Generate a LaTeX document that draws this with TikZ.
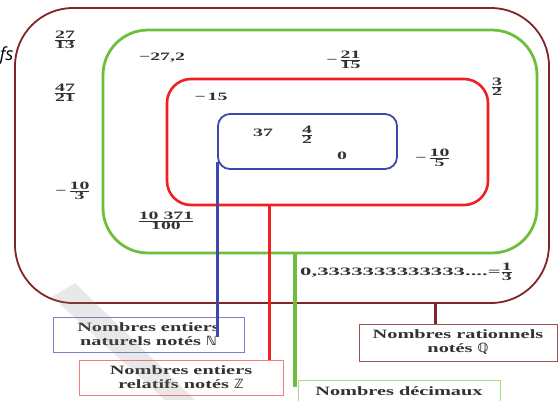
\documentclass[tikz,border=0pt]{standalone}
\usepackage{amsmath,amssymb,graphicx}
\usepackage{fontspec}
\usetikzlibrary{calc}
\newfontfamily\wf{Liberation Serif}[FakeStretch=1.75]
\newfontfamily\lf{Liberation Serif}[FakeStretch=1.6]
\newfontfamily\dsf{DejaVu Sans}
\newfontfamily\fsfont{Open Sans}
\definecolor{cBrown}{RGB}{128,38,38}
\definecolor{cBrownL}{RGB}{165,80,80}
\definecolor{cGreen}{RGB}{108,190,60}
\definecolor{cGreenL}{RGB}{165,220,135}
\definecolor{cRed}{RGB}{240,32,32}
\definecolor{cRedL}{RGB}{245,125,125}
\definecolor{cBlue}{RGB}{60,72,170}
\definecolor{cBlueL}{RGB}{125,125,205}
\definecolor{txt}{RGB}{50,50,50}
\newcommand\fr[2]{$\genfrac{}{}{0.6pt}{}{\mbox{#1}}{\mbox{#2}}$}
\newcommand\dbl[1]{{\dsf\bfseries #1}}
\begin{document}
\begin{tikzpicture}[x=1pt,y=-1pt,
  setbox/.style={draw, rectangle, inner sep=0pt},
  num/.style={inner sep=0pt, text=txt, font=\wf\bfseries\fontsize{11.3}{13}\selectfont},
  labbox/.style={draw, line width=0.8pt, rectangle, inner sep=0pt, align=center, text=txt,
     font=\lf\bfseries\fontsize{12.7}{14}\selectfont},
  conn/.style={line cap=butt}]
\useasboundingbox (0,0) rectangle (558,400);
\clip (0,0) rectangle (558,400);
% sets
\node[setbox, draw=cBrown, line width=1.8pt, rounded corners=58pt,
      minimum width=534pt, minimum height=295pt] (Q) at (282,155.5) {};
\node[setbox, draw=cGreen, line width=2.8pt, rounded corners=45pt,
      minimum width=434pt, minimum height=223pt] (D) at (320,141.5) {};
\node[setbox, draw=cRed, line width=2.6pt, rounded corners=24pt,
      minimum width=321pt, minimum height=126pt] (Z) at (327.5,142) {};
\node[setbox, draw=cBlue, line width=1.8pt, rounded corners=12pt,
      minimum width=179pt, minimum height=55pt] (N) at (307.5,141.5) {};
% labels
\node[labbox, draw=cBlueL, minimum width=191pt, minimum height=35pt] (LN) at (148.5,334.5)
  {Nombres entiers\\naturels notés \dbl{ℕ}};
\node[labbox, draw=cRedL, minimum width=204pt, minimum height=35pt] (LZ) at (181,377.5)
  {Nombres entiers\\relatifs notés \dbl{ℤ}};
\node[labbox, draw=cGreenL, minimum width=202pt, minimum height=36pt] (LD) at (399,398)
  {Nombres décimaux\\\phantom{notés}};
\node[labbox, draw=cBrownL, minimum width=198pt, minimum height=37pt] (LQ) at (458,342.5)
  {Nombres rationnels\\notés \dbl{ℚ}};
% connectors
\draw[conn, cBlue, line width=3pt] ([yshift=-20pt]N.west) -- ([yshift=-20pt]N.west |- LN.north);
\coordinate (zr) at ($(Z.south west)!0.32!(Z.south east)$);
\draw[conn, cRed, line width=2.6pt] (zr) -- (zr |- LZ.north);
\coordinate (dg) at ($(D.south west)!0.442!(D.south east)$);
\draw[conn, cGreen, line width=4pt] (dg) -- (dg |- LD.north) -- ++(0,7);
\coordinate (qb) at ($(Q.south west)!0.7865!(Q.south east)$);
\draw[conn, cBrown, line width=2.8pt] (qb) -- (qb |- LQ.north);
% numbers
\node[num] (a1) at (65,40) {\fr{27}{13}};
\node[num] (a2) at (65,93) {\fr{47}{21}};
\node[num] (a3) at (73,191) {−\,\fr{10}{3}};
\node[num] (a4) at (162,58) {−27,2};
\node[num] (a5) at (344,60) {−\,\fr{21}{15}};
\node[num] (a6) at (497,87) {\fr{3}{2}};
\node[num] (a7) at (211,97) {−\,15};
\node[num] (a8) at (263,133) {37};
\node[num] (a9) at (307,135) {\fr{4}{2}};
\node[num] (a10) at (342,156) {0};
\node[num] (a11) at (433,158) {−\,\fr{10}{5}};
\node[num] (a12) at (166,221) {\fr{10 371}{100}};
\node[num, anchor=west] (a13) at (300,272) {\scalebox{1.15}[1]{0,3333333333333....=}\fr{1}{3}};
% stray text at left edge
\node[inner sep=0pt, anchor=east, font=\fsfont\itshape\fontsize{18}{18}\selectfont] (fs) at (13.5,56) {fs};
% watermark band
\fill[gray, opacity=0.18] (52,297) -- (75,283) -- (195,400) -- (165,400) -- cycle;
\end{tikzpicture}
\end{document}
